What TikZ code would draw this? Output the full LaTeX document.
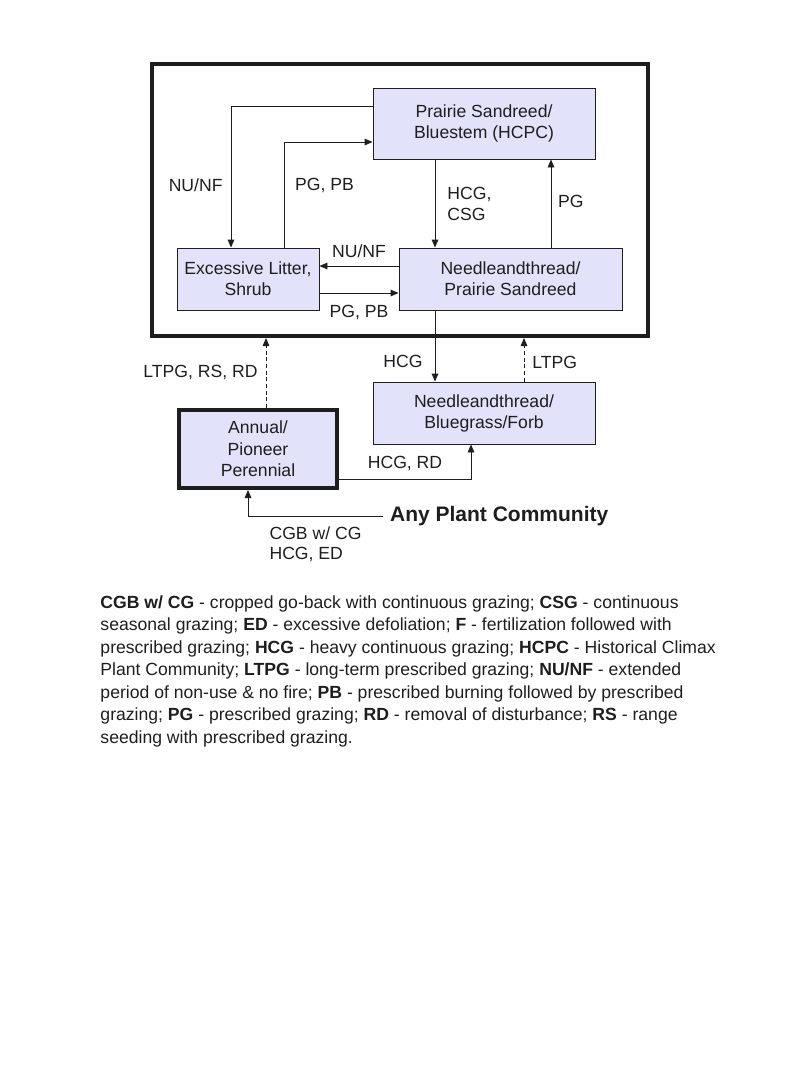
\documentclass[tikz,border=0pt]{standalone}
\usepackage{fontspec}
\setmainfont{Liberation Sans}
\usetikzlibrary{arrows.meta, positioning}
\definecolor{statefill}{RGB}{226,226,250}
\definecolor{ink}{RGB}{30,30,30}

\begin{document}
\begin{tikzpicture}[x=0.75pt, y=-0.75pt, >={Triangle[length=6pt,width=5pt]},
    line width=0.7pt, draw=ink, text=ink,
    font=\fontsize{13.2pt}{15.8pt}\selectfont,
    state/.style={draw, fill=statefill, align=center, minimum height=46.5pt, inner sep=2pt},
    lbl/.style={inner sep=0pt, align=left},
    loose/.style={dash pattern=on 3pt off 2pt}]
  \useasboundingbox (0,0) rectangle (800,1067);

  \node[draw, line width=3pt, minimum width=372pt, minimum height=204pt] (frame) at (400,200) {};

  \node[state, minimum width=166.5pt, minimum height=53.25pt] (prairie) at (484,123.5) {Prairie Sandreed/\\Bluestem (HCPC)};
  \node[state, minimum width=106.5pt] (litter) at (248,279) {Excessive Litter,\\Shrub};
  \node[state, minimum width=167.25pt] (needle) at (510.5,279) {Needleandthread/\\Prairie Sandreed};
  \node[state, minimum width=166.5pt] (forb) at (484,413) {Needleandthread/\\Bluegrass/Forb};
  \node[state, line width=3pt, minimum width=118.5pt, minimum height=58.5pt,
        font=\fontsize{13.2pt}{16.2pt}\selectfont] (annual) at (258,449) {Annual/\\Pioneer\\Perennial};
  \node[anchor=west, inner sep=0pt, inner xsep=5pt, font=\bfseries\fontsize{15.75pt}{18pt}\selectfont]
    (any) at (383,516) {Any Plant Community};

  % bend points
  \coordinate (b1) at (231,106);
  \coordinate (b2) at (284,142);
  \coordinate (b3) at (435,200);
  \coordinate (b4) at (551,200);
  \coordinate (b5) at (360,266);
  \coordinate (b6) at (360,293);
  \coordinate (b7) at (524,360);
  \coordinate (b8) at (266,370);
  \coordinate (b9) at (471,479);
  \coordinate (b10) at (248,516);

  \draw[->] (prairie.west |- b1) -- (b1) -- node[lbl, left=6pt, pos=0.56] {NU/NF} (b1 |- litter.north);
  \draw[->] (b2 |- litter.north) -- node[lbl, right=8pt, pos=0.59] {PG, PB} (b2) -- (b2 -| prairie.west);
  \draw[->] (prairie.south -| b3) -- node[lbl, right=9pt, pos=0.5] {HCG,\\CSG} (needle.north -| b3);
  \draw[->] (needle.north -| b4) -- node[lbl, right=5pt, pos=0.52] {PG} (prairie.south -| b4);
  \draw[->] (needle.west |- b5) -- node[lbl, above=6pt] {NU/NF} (litter.east |- b5);
  \draw[->] (litter.east |- b6) -- node[lbl, below=9pt] {PG, PB} (needle.west |- b6);
  \draw[->] (needle.south -| b3) -- node[lbl, left=9pt, pos=0.72] {HCG} (forb.north -| b3);
  \draw[->, loose] (forb.north -| b7) -- node[lbl, right=6pt, pos=0.45] {LTPG} (frame.south -| b7);
  \draw[->, loose] (annual.north -| b8) -- node[lbl, left=6pt, pos=0.51] {LTPG, RS, RD} (frame.south -| b8);
  \draw[->] (annual.east |- b9) -- node[lbl, above=6pt] {HCG, RD} (b9) -- (b9 |- forb.south);
  \draw[->] (any.west) -- node[lbl, below=8pt, pos=0.5, font=\fontsize{13.2pt}{15pt}\selectfont] {CGB w/ CG\\HCG, ED} (b10) -- (b10 |- annual.south);

  % legend
  \node[anchor=north west, inner sep=0pt, align=left, font=\fontsize{13.2pt}{16.9pt}\selectfont] (legend) at (100,595)
    {\textbf{CGB w/ CG} - cropped go-back with continuous grazing; \textbf{CSG} - continuous\\
     seasonal grazing; \textbf{ED} - excessive defoliation; \textbf{F} - fertilization followed with\\
     prescribed grazing; \textbf{HCG} - heavy continuous grazing; \textbf{HCPC} - Historical Climax\\
     Plant Community; \textbf{LTPG} - long-term prescribed grazing; \textbf{NU/NF} - extended\\
     period of non-use \& no fire; \textbf{PB} - prescribed burning followed by prescribed\\
     grazing; \textbf{PG} - prescribed grazing; \textbf{RD} - removal of disturbance; \textbf{RS} - range\\
     seeding with prescribed grazing.};
\end{tikzpicture}
\end{document}
